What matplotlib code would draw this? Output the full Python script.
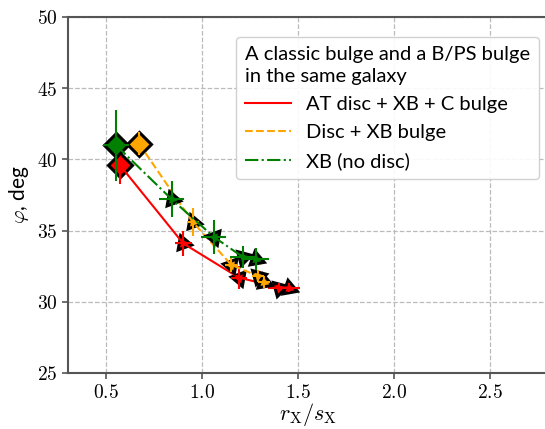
import matplotlib
matplotlib.use("Agg")
import matplotlib.pyplot as plt

plt.rcParams['mathtext.fontset'] = 'cm'
plt.rcParams['font.family'] = ['Lato', 'DejaVu Sans']

# AT disc + XB + C bulge
x_red = [0.57, 0.90, 1.19, 1.40, 1.45]
y_red = [39.6, 34.1, 31.7, 31.0, 31.0]
yerr_red = [1.35, 0.9, 0.8, 0.3, 0.3]
xerr_red = [0.04, 0.045, 0.04, 0.06, 0.06]

# Disc + XB bulge
x_orange = [0.67, 0.95, 1.15, 1.29, 1.32]
y_orange = [41.1, 35.6, 32.6, 31.8, 31.4]
yerr_orange = [0.8, 1.0, 0.5, 0.4, 0.4]
xerr_orange = [0.03, 0.03, 0.03, 0.03, 0.03]

# XB (no disc)
x_green = [0.55, 0.84, 1.06, 1.21, 1.28]
y_green = [41.0, 37.2, 34.55, 33.15, 33.0]
yerr_green = [2.5, 1.25, 1.2, 0.8, 0.8]
xerr_green = [0.07, 0.065, 0.065, 0.065, 0.065]

labels = ['AT disc + XB + C bulge', 'Disc + XB bulge', 'XB (no disc)']
legend_title = 'A classic bulge and a B/PS bulge\nin the same galaxy'
xticks = [0.5, 1.0, 1.5, 2.0, 2.5]
yticks = [25, 30, 35, 40, 45, 50]

markers = ['D', (3, 0, 20), (3, 0, 80), (3, 0, 45), (3, 0, 10)]

fig = plt.figure(figsize=(5.45, 4.29), dpi=100)
ax = fig.add_axes([68/545, 1-373/429, 480/545, (373-17)/429])

series = [
    (x_red, y_red, xerr_red, yerr_red, 'red', '-'),
    (x_orange, y_orange, xerr_orange, yerr_orange, 'orange', '--'),
    (x_green, y_green, xerr_green, yerr_green, 'green', '-.'),
]
handles = []
for i, (xs, ys, xe, ye, c, ls) in enumerate(series):
    for j in range(len(xs)):
        ax.plot(xs[j], ys[j], marker=markers[j], ms=12, mfc=c, mec='black',
                mew=2.2, ls='none', zorder=3 + i)
        ax.errorbar(xs[j], ys[j], xerr=xe[j], yerr=ye[j], fmt='none',
                    ecolor=c, elinewidth=1.5, capsize=0, zorder=3.5 + i)
    h, = ax.plot(xs, ys, color=c, ls=ls, lw=1.5, zorder=3.6 + i)
    handles.append(h)

ax.set_xlim(0.3, 2.8)
ax.set_ylim(25, 50)
ax.set_xticks(xticks)
ax.set_xticklabels([f'${t:.1f}$' for t in xticks])
ax.set_yticks(yticks)
ax.set_yticklabels([f'${t}$' for t in yticks])
ax.tick_params(labelsize=14, color='#555555', length=4, width=1.2)
ax.grid(True, ls='--', color='#bbbbbb', lw=0.9)
ax.set_axisbelow(True)
for s in ax.spines.values():
    s.set_color('#555555')
    s.set_linewidth(1.5)

ax.set_xlabel(r'$r_\mathrm{X}/s_\mathrm{X}$', fontsize=16, labelpad=0)
ax.set_ylabel(r'$\varphi$, deg', fontsize=15)

leg = ax.legend(handles, labels, title=legend_title, loc='upper left',
                bbox_to_anchor=((226-68)/480, 1-(27-17)/356),
                fontsize=14.5, title_fontsize=14.5, alignment='left',
                framealpha=0.9, edgecolor='#cccccc', handlelength=2.3,
                handletextpad=0.7, labelspacing=0.55, borderpad=0.45)
leg.get_title().set_linespacing(1.35)

fig.savefig('out.png', dpi=100)
